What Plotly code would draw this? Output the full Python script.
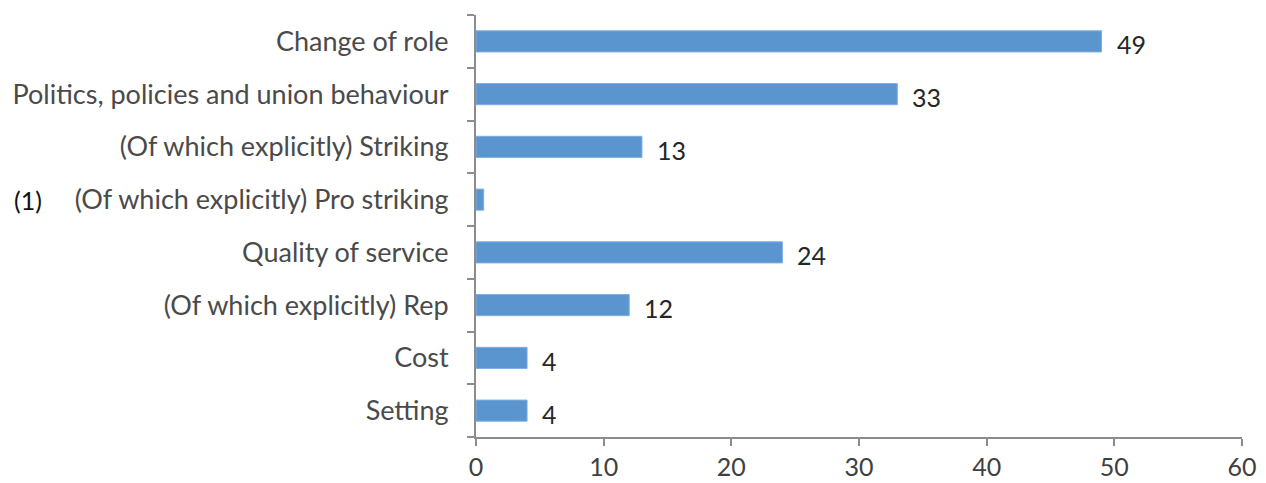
import plotly.graph_objects as go

# Categories listed top to bottom
categories = [
    "Change of role",
    "Politics, policies and union behaviour",
    "(Of which explicitly) Striking",
    "(Of which explicitly) Pro striking",
    "Quality of service",
    "(Of which explicitly) Rep",
    "Cost",
    "Setting",
]
values = [49, 33, 13, 0.6, 24, 12, 4, 4]
value_labels = ["49", "33", "13", "", "24", "12", "4", "4"]
footnote_category = "(Of which explicitly) Pro striking"
footnote_text = "(1)"
x_ticks = [0, 10, 20, 30, 40, 50, 60]

bar_color = "#5b95cf"
axis_color = "#8c8c8c"
font_family = "Lato, Open Sans, sans-serif"

fig = go.Figure(
    go.Bar(
        x=values,
        y=categories,
        orientation="h",
        marker=dict(color=bar_color, line=dict(color="#7eaee0", width=1)),
        width=0.4,
        hoverinfo="skip",
    )
)

# value labels to the right of each bar
for cat, v, lab in zip(categories, values, value_labels):
    if lab:
        fig.add_annotation(
            x=v, y=cat, text=lab, showarrow=False,
            xanchor="left", xshift=13, yshift=-3,
            font=dict(family=font_family, size=25, color="#262626"),
        )

# footnote marker in front of its category label
fig.add_annotation(
    x=0, y=footnote_category, xref="x", yref="y", text=footnote_text,
    showarrow=False, xanchor="right", xshift=-432,
    font=dict(family=font_family, size=25, color="#111111"),
)

fig.update_layout(
    width=1266, height=483,
    margin=dict(l=476, r=24, t=15, b=46),
    paper_bgcolor="white", plot_bgcolor="white",
    showlegend=False,
    font=dict(family=font_family, size=25, color="#4a4a4a"),
)
fig.update_xaxes(
    range=[0, 60], tickvals=x_ticks, showgrid=False, zeroline=False,
    showline=True, linecolor=axis_color, linewidth=2,
    ticks="outside", ticklen=7, tickcolor=axis_color, tickwidth=2,
    automargin=False,
    tickfont=dict(color="#404040", size=25),
)
fig.update_yaxes(
    categoryorder="array", categoryarray=categories[::-1],
    tickson="boundaries", showgrid=False,
    showline=True, linecolor=axis_color, linewidth=2,
    ticks="outside", ticklen=7, tickcolor=axis_color, tickwidth=2,
    ticklabelstandoff=20, automargin=False,
    tickfont=dict(color="#4a4a4a", size=27),
)

fig.write_html("out.html")
